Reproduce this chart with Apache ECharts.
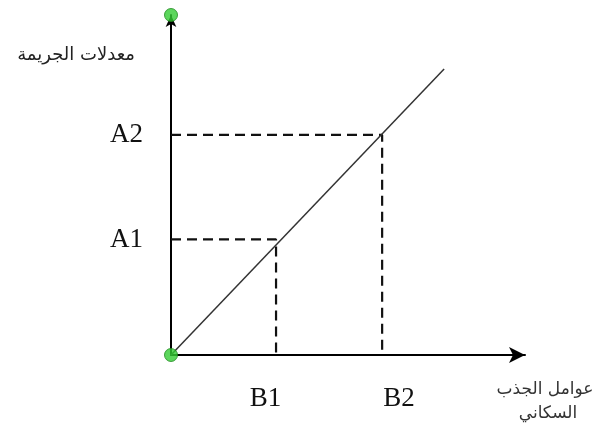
<!DOCTYPE html>
<html>
<head>
<meta charset="utf-8">
<script src="https://cdn.jsdelivr.net/npm/echarts@6/dist/echarts.min.js"></script>
<style>
html,body{margin:0;padding:0;background:#fff}
#main{width:611px;height:441px}
</style>
</head>
<body>
<div id="main"></div>
<script>
// diagonal relation line
var lineX = [0, 2.6];
var lineY = [0, 2.6];
// points on the line
var bValues = [1, 2.01];
var aValues = [1.05, 2];
var aNames = ['A1', 'A2'];
var bNames = ['B1', 'B2'];
// where the B labels sit under the axis
var bLabelAt = [0.9, 2.17];
var xMax = 3.37, yMax = 3.09;

var chart = echarts.init(document.getElementById('main'));

var series = [];
series.push({
  type: 'line',
  data: lineX.map(function (x, i) { return [x, lineY[i]]; }),
  symbol: 'none',
  lineStyle: { color: '#333', width: 1.5 },
  z: 3
});
for (var i = 0; i < aValues.length; i++) {
  series.push({
    type: 'line',
    data: [[0, aValues[i]], [bValues[i], aValues[i]], [bValues[i], 0]],
    symbol: 'none',
    lineStyle: { color: '#111', width: 2.2, type: [10, 6] },
    z: 2
  });
}
series.push({
  type: 'scatter',
  data: [[0, 0], [0, yMax]],
  symbolSize: 13,
  clip: false,
  itemStyle: { color: '#33cc33', borderColor: '#1f8a1f', borderWidth: 1 },
  z: 10
});

chart.setOption({
  animation: false,
  grid: { left: 171, right: 86, top: 15, bottom: 86 },
  xAxis: {
    type: 'value', min: 0, max: xMax,
    splitLine: { show: false },
    axisTick: { show: false },
    axisLine: { lineStyle: { color: '#000', width: 2 }, symbol: ['none', 'arrow'], symbolSize: [12, 16] },
    axisLabel: {
      customValues: bLabelAt,
      margin: 30,
      fontFamily: 'Liberation Serif', fontSize: 27, color: '#111',
      formatter: function (v) { return bNames[bLabelAt.indexOf(v)]; }
    }
  },
  yAxis: {
    type: 'value', min: 0, max: yMax,
    splitLine: { show: false },
    axisTick: { show: false },
    axisLine: { lineStyle: { color: '#000', width: 2 }, symbol: ['none', 'arrow'], symbolSize: [8, 12] },
    axisLabel: {
      customValues: aValues,
      margin: 28,
      fontFamily: 'Liberation Serif', fontSize: 27, color: '#111',
      formatter: function (v) { return aNames[aValues.indexOf(v)]; }
    }
  },
  graphic: [
    { type: 'text', x: 135, y: 55, style: { text: 'معدلات الجريمة', font: '18px "DejaVu Sans"', fill: '#222', align: 'right', verticalAlign: 'middle' } },
    { type: 'text', x: 545, y: 390, style: { text: 'عوامل الجذب', font: '17px "DejaVu Sans"', fill: '#333', align: 'center', verticalAlign: 'middle' } },
    { type: 'text', x: 548, y: 414, style: { text: 'السكاني', font: '17px "DejaVu Sans"', fill: '#333', align: 'center', verticalAlign: 'middle' } }
  ],
  series: series
});
</script>
</body>
</html>
